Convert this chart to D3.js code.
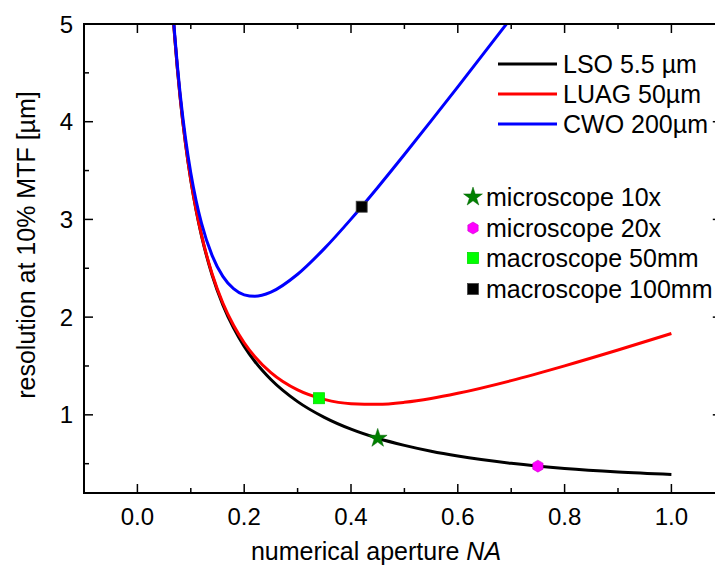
<!DOCTYPE html>
<html>
<head>
<meta charset="utf-8">
<script src="https://cdn.jsdelivr.net/npm/d3@7"></script>
<style>
  html, body { margin: 0; padding: 0; background: #fff; }
  svg { display: block; font-family: "Liberation Sans", Arial, sans-serif; }
</style>
</head>
<body>
<svg id="chart" width="715" height="567"></svg>
<script>
// ---- data ----
const naValues = [0.068, 0.07, 0.08, 0.09, 0.10, 0.11, 0.12, 0.14, 0.16, 0.18, 0.20, 0.22, 0.25, 0.30, 0.35, 0.40, 0.45, 0.50, 0.55, 0.60, 0.70, 0.80, 0.90, 1.00];
const lsoValues = [5.00, 4.857, 4.25, 3.778, 3.40, 3.091, 2.834, 2.429, 2.126, 1.890, 1.701, 1.546, 1.361, 1.135, 0.974, 0.853, 0.760, 0.687, 0.627, 0.578, 0.504, 0.451, 0.415, 0.390];
const luagValues = [5.00, 4.859, 4.252, 3.781, 3.405, 3.097, 2.842, 2.442, 2.145, 1.917, 1.738, 1.595, 1.432, 1.255, 1.158, 1.114, 1.108, 1.128, 1.167, 1.220, 1.350, 1.501, 1.663, 1.832];
const cwoNA = [0.068, 0.07, 0.08, 0.09, 0.10, 0.11, 0.12, 0.14, 0.16, 0.18, 0.20, 0.22, 0.25, 0.30, 0.35, 0.40, 0.45, 0.50, 0.55, 0.60, 0.65, 0.70];
const cwoValues = [5.024, 4.883, 4.289, 3.833, 3.475, 3.191, 2.962, 2.629, 2.417, 2.291, 2.228, 2.213, 2.256, 2.439, 2.701, 3.003, 3.327, 3.664, 4.008, 4.357, 4.709, 5.063];

const seriesNames = ["LSO 5.5 µm", "LUAG 50µm", "CWO 200µm"];
const seriesColors = ["#000000", "#ff0000", "#0000ff"];

const pointNames = ["microscope 10x", "microscope 20x", "macroscope 50mm", "macroscope 100mm"];
const pointNA = [0.45, 0.75, 0.34, 0.42];
const pointRes = [0.76, 0.475, 1.17, 3.13];
const pointColors = ["#008000", "#ff00ff", "#00ff00", "#000000"];
const pointShapes = ["star", "hexagon", "square", "square"];

const xTicks = [0.0, 0.2, 0.4, 0.6, 0.8, 1.0];
const yTicks = [1, 2, 3, 4, 5];

// ---- layout ----
const svg = d3.select("#chart");
const pLeft = 84, pTop = 24, pBottom = 493;
const x = d3.scaleLinear().domain([-0.1, 1.1]).range([pLeft, pLeft + 1.2 * 534]);
const y = d3.scaleLinear().domain([0.2, 5]).range([pBottom, pTop]);
const pRight = x(1.1);

svg.append("defs").append("clipPath").attr("id", "plotclip")
  .append("rect").attr("x", pLeft).attr("y", pTop).attr("width", pRight - pLeft).attr("height", pBottom - pTop);

const tickFont = 24;
const textFont = 25;

// curves
const line = d3.line().x(d => x(d[0])).y(d => y(d[1])).curve(d3.curveMonotoneX);
const curves = [
  d3.zip(naValues, lsoValues),
  d3.zip(naValues, luagValues),
  d3.zip(cwoNA, cwoValues)
];
const plot = svg.append("g").attr("clip-path", "url(#plotclip)");
curves.forEach((c, i) => {
  plot.append("path").datum(c)
    .attr("d", line)
    .attr("fill", "none")
    .attr("stroke", seriesColors[i])
    .attr("stroke-width", 3)
    .attr("stroke-linejoin", "round");
});

// marker shapes
function hexPath(r) {
  const pts = d3.range(6).map(k => {
    const a = Math.PI / 6 + k * Math.PI / 3;
    return [r * Math.cos(a), r * Math.sin(a)];
  });
  return d3.line()(pts) + "Z";
}
function drawMarker(g, shape, color, cx, cy) {
  if (shape === "star") {
    g.append("path").attr("d", d3.symbol(d3.symbolStar, 110)())
      .attr("transform", `translate(${cx},${cy})`)
      .attr("fill", color).attr("stroke", "#006000").attr("stroke-width", 0.5);
  } else if (shape === "hexagon") {
    g.append("path").attr("d", hexPath(6))
      .attr("transform", `translate(${cx},${cy})`)
      .attr("fill", color).attr("stroke", "#c000c0").attr("stroke-width", 0.5);
  } else {
    g.append("rect").attr("x", cx - 5.5).attr("y", cy - 5.5).attr("width", 11).attr("height", 11)
      .attr("fill", color).attr("stroke", color === "#000000" ? "#444" : "#00dd00").attr("stroke-width", 0.8);
  }
}
const markers = svg.append("g");
pointNA.forEach((v, i) => drawMarker(markers, pointShapes[i], pointColors[i], x(v), y(pointRes[i])));

// axes frame
svg.append("rect").attr("x", pLeft).attr("y", pTop).attr("width", pRight - pLeft).attr("height", pBottom - pTop)
  .attr("fill", "none").attr("stroke", "#000").attr("stroke-width", 2);

const xMinor = [-0.1, 0.1, 0.3, 0.5, 0.7, 0.9, 1.1];
const yMinor = [0.5, 1.5, 2.5, 3.5, 4.5];
const majLen = 9, minLen = 5, rightMaj = 12, rightMin = 7;

const tickG = svg.append("g").attr("stroke", "#000").attr("stroke-width", 1.5);
xTicks.forEach(v => {
  tickG.append("line").attr("x1", x(v)).attr("x2", x(v)).attr("y1", pBottom).attr("y2", pBottom - majLen);
  tickG.append("line").attr("x1", x(v)).attr("x2", x(v)).attr("y1", pTop).attr("y2", pTop + majLen);
});
xMinor.forEach(v => {
  tickG.append("line").attr("x1", x(v)).attr("x2", x(v)).attr("y1", pBottom).attr("y2", pBottom - minLen);
  tickG.append("line").attr("x1", x(v)).attr("x2", x(v)).attr("y1", pTop).attr("y2", pTop + minLen);
});
yTicks.forEach(v => {
  tickG.append("line").attr("y1", y(v)).attr("y2", y(v)).attr("x1", pLeft).attr("x2", pLeft + majLen);
  tickG.append("line").attr("y1", y(v)).attr("y2", y(v)).attr("x1", pRight).attr("x2", pRight - rightMaj);
});
yMinor.forEach(v => {
  tickG.append("line").attr("y1", y(v)).attr("y2", y(v)).attr("x1", pLeft).attr("x2", pLeft + minLen);
  tickG.append("line").attr("y1", y(v)).attr("y2", y(v)).attr("x1", pRight).attr("x2", pRight - rightMin);
});

// tick labels
const xFmt = d3.format(".1f");
svg.append("g").selectAll("text").data(xTicks).join("text")
  .attr("x", d => x(d)).attr("y", pBottom + 32)
  .attr("text-anchor", "middle").attr("font-size", tickFont).attr("fill", "#000")
  .text(d => xFmt(d));
svg.append("g").selectAll("text").data(yTicks).join("text")
  .attr("x", pLeft - 11).attr("y", d => y(d)).attr("dy", "0.36em")
  .attr("text-anchor", "end").attr("font-size", tickFont).attr("fill", "#000")
  .text(d => d);

// axis titles
const xt = svg.append("text").attr("x", 376).attr("y", 560)
  .attr("text-anchor", "middle").attr("font-size", textFont).attr("fill", "#000");
xt.append("tspan").text("numerical aperture ");
xt.append("tspan").attr("font-style", "italic").text("NA");

svg.append("text").attr("transform", `translate(35, 245) rotate(-90)`)
  .attr("text-anchor", "middle").attr("font-size", textFont).attr("fill", "#000")
  .text("resolution at 10% MTF [µm]");

// legend 1 (lines)
const leg1Y = [64, 94, 124];
seriesNames.forEach((n, i) => {
  svg.append("line").attr("x1", 498).attr("x2", 557).attr("y1", leg1Y[i]).attr("y2", leg1Y[i])
    .attr("stroke", seriesColors[i]).attr("stroke-width", 3);
  svg.append("text").attr("x", 563).attr("y", leg1Y[i]).attr("dy", "0.35em")
    .attr("font-size", textFont).attr("fill", "#000").text(n);
});

// legend 2 (points)
const leg2Y = [197, 228, 258, 289];
pointNames.forEach((n, i) => {
  drawMarker(svg, pointShapes[i], pointColors[i], 473, leg2Y[i]);
  svg.append("text").attr("x", 486).attr("y", leg2Y[i]).attr("dy", "0.35em")
    .attr("font-size", textFont).attr("fill", "#000").text(n);
});
</script>
</body>
</html>
